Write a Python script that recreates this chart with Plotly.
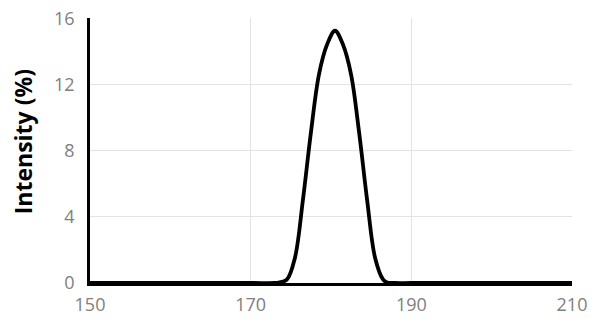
import plotly.graph_objects as go

size_nm = [150, 160, 170, 173.0, 173.5, 174.5, 175.5, 176.5, 177.5, 178.5, 179.5, 180.5,
           181.5, 182.5, 183.5, 184.5, 185.5, 186.5, 187.0, 188, 190, 200, 210]
intensity = [0, 0, 0, 0, 0.03, 0.2, 1.5, 5.0, 9.1, 12.6, 14.4, 15.25,
             14.4, 12.6, 9.1, 5.0, 1.5, 0.2, 0.03, 0, 0, 0, 0]

x_ticks = [150, 170, 190, 210]
y_ticks = [0, 4, 8, 12, 16]
y_title = "Intensity (%)"

fig = go.Figure()
fig.add_trace(go.Scatter(
    x=size_nm, y=intensity, mode="lines",
    line=dict(color="black", width=3.8, shape="spline", smoothing=1.0),
    showlegend=False, cliponaxis=False,
))

FONT = "Open Sans, Liberation Sans, sans-serif"
tick_font = dict(family=FONT, size=18, color="#808080")
fig.update_layout(
    width=599, height=324,
    margin=dict(l=82, r=35, t=10, b=49),
    paper_bgcolor="white", plot_bgcolor="white",
    xaxis=dict(range=[150, 210], tickvals=x_ticks, ticktext=[str(v) for v in x_ticks],
               showgrid=True, gridcolor="#e3e3e3", gridwidth=1,
               showline=True, linecolor="black", linewidth=2.5,
               zeroline=False, ticks="", tickfont=tick_font, automargin=False,
               ticklabelstandoff=4, ticklabeloverflow="allow"),
    yaxis=dict(range=[0, 16.02], tickvals=y_ticks, ticktext=[str(v) for v in y_ticks],
               showgrid=True, gridcolor="#e3e3e3", gridwidth=1,
               showline=True, linecolor="black", linewidth=2.5,
               zeroline=False, ticks="", tickfont=tick_font, automargin=False,
               ticklabelstandoff=9, ticklabeloverflow="allow"),
    annotations=[dict(text="<b>" + y_title + "</b>", textangle=-90,
                      xref="paper", yref="paper", x=-0.139, y=0.531,
                      xanchor="center", yanchor="middle", showarrow=False,
                      font=dict(family=FONT, size=23, color="black"))],
)

fig.write_html("out.html")
